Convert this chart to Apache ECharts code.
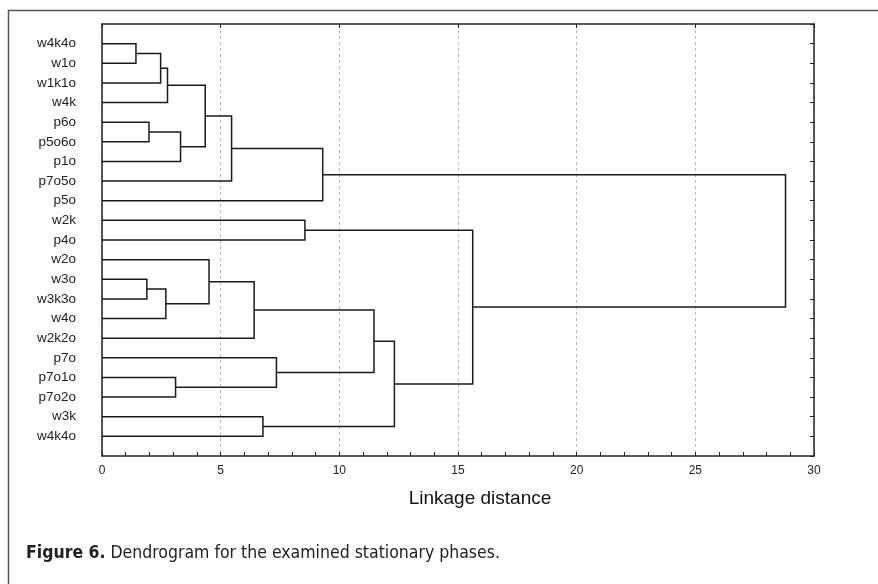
<!DOCTYPE html>
<html>
<head>
<meta charset="utf-8">
<title>Dendrogram</title>
<script src="https://cdn.jsdelivr.net/npm/echarts@6/dist/echarts.min.js"></script>
<style>
    html, body { margin: 0; padding: 0; background: #fff; }
    #chart { width: 878px; height: 584px; }
</style>
</head>
<body>
<div id="chart"></div>
<script>
// leaves, top to bottom
var leaves = ['w4k4o', 'w1o', 'w1k1o', 'w4k', 'p6o', 'p5o6o', 'p1o', 'p7o5o', 'p5o', 'w2k', 'p4o',
    'w2o', 'w3o', 'w3k3o', 'w4o', 'w2k2o', 'p7o', 'p7o1o', 'p7o2o', 'w3k', 'w4k4o'];

// merges: new cluster ids start at leaves.length (21)
var mergeLeft   = [0, 21, 22, 4, 24, 23, 26, 27, 9, 12, 30, 11, 32, 17, 16, 19, 33, 37, 29, 28];
var mergeRight  = [1, 2, 3, 5, 6, 25, 7, 8, 10, 13, 14, 31, 15, 18, 34, 20, 35, 36, 38, 39];
var mergeHeight = [1.43, 2.47, 2.76, 1.98, 3.31, 4.35, 5.46, 9.30, 8.55, 1.89, 2.69, 4.51, 6.41,
    3.10, 7.35, 6.78, 11.46, 12.32, 15.62, 28.80];

var xTicks = [0, 5, 10, 15, 20, 25, 30];

var chart = echarts.init(document.getElementById('chart'));

// positions of every node (leaf or cluster): x = height, y = leaf index / midpoint
var nodeX = [], nodeY = [];
leaves.forEach(function (name, i) {
    nodeX.push(0);
    nodeY.push(i);
});
var links = [];
for (var i = 0; i < mergeHeight.length; i++) {
    var a = mergeLeft[i], b = mergeRight[i], h = mergeHeight[i];
    links.push({
        coords: [[nodeX[a], nodeY[a]], [h, nodeY[a]], [h, nodeY[b]], [nodeX[b], nodeY[b]]]
    });
    nodeX.push(h);
    nodeY.push((nodeY[a] + nodeY[b]) / 2);
}

var axisColor = '#222';
var font = '"Liberation Sans", Arial, sans-serif';
var capFont = '"Liberation Sans Narrow", "DejaVu Sans Condensed", sans-serif';

var option = {
    animation: false,
    grid: { left: 102, right: 64, top: 24, bottom: 128 },
    xAxis: [
        {
            type: 'value', position: 'bottom', min: 0, max: 30, interval: 5,
            axisLine: { show: true, onZero: false, lineStyle: { color: axisColor, width: 1.5 } },
            axisTick: { show: true, inside: true, length: 4, lineStyle: { color: axisColor } },
            minorTick: { show: true, splitNumber: 5, length: 4, lineStyle: { color: axisColor } },
            splitLine: { show: true, lineStyle: { color: '#b8b8b8', type: [3, 3], width: 1 } },
            axisLabel: {
                margin: 9, fontSize: 12, color: axisColor, fontFamily: font,
                formatter: function (v) { return xTicks.indexOf(v) >= 0 ? String(v) : ''; }
            }
        },
        {
            type: 'value', position: 'top', min: 0, max: 30, interval: 5,
            axisLine: { show: true, onZero: false, lineStyle: { color: axisColor, width: 1.5 } },
            axisTick: { show: true, inside: true, length: 4, lineStyle: { color: axisColor } },
            splitLine: { show: false },
            axisLabel: { show: false }
        }
    ],
    yAxis: [
        {
            type: 'value', position: 'left', min: -1, max: 21, interval: 1, inverse: true,
            axisLine: { show: true, onZero: false, lineStyle: { color: axisColor, width: 1.5 } },
            axisTick: { show: false },
            splitLine: { show: false },
            axisLabel: {
                margin: 26, fontSize: 13.5, color: axisColor, fontFamily: font,
                formatter: function (v) { return (v >= 0 && v < leaves.length) ? leaves[v] : ''; }
            }
        },
        {
            type: 'value', position: 'right', min: -1, max: 21, interval: 1, inverse: true,
            axisLine: { show: true, onZero: false, lineStyle: { color: axisColor, width: 1.5 } },
            axisTick: { show: true, inside: true, length: 4, lineStyle: { color: axisColor } },
            splitLine: { show: false },
            axisLabel: { show: false }
        }
    ],
    series: [
        {
            type: 'lines',
            coordinateSystem: 'cartesian2d',
            polyline: true,
            silent: true,
            lineStyle: { color: '#1a1a1a', width: 1.5, opacity: 1 },
            data: links
        }
    ],
    graphic: [
        {
            type: 'polyline',
            shape: { points: [[8.5, 584], [8.5, 10.5], [878, 10.5]] },
            style: { stroke: '#555', lineWidth: 1.5, fill: null }
        },
        {
            type: 'text', x: 480, y: 499,
            style: {
                text: 'Linkage distance', fill: '#111', font: '19px ' + font,
                align: 'center', verticalAlign: 'middle'
            }
        },
        {
            type: 'text', x: 26, y: 553,
            style: {
                text: '{b|Figure 6.} Dendrogram for the examined stationary phases.',
                fill: '#222',
                fontSize: 17.5,
                fontFamily: capFont,
                verticalAlign: 'middle',
                rich: {
                    b: { fontWeight: 'bold', fontSize: 17.5, fill: '#222', fontFamily: capFont }
                }
            }
        }
    ]
};

chart.setOption(option);
</script>
</body>
</html>
